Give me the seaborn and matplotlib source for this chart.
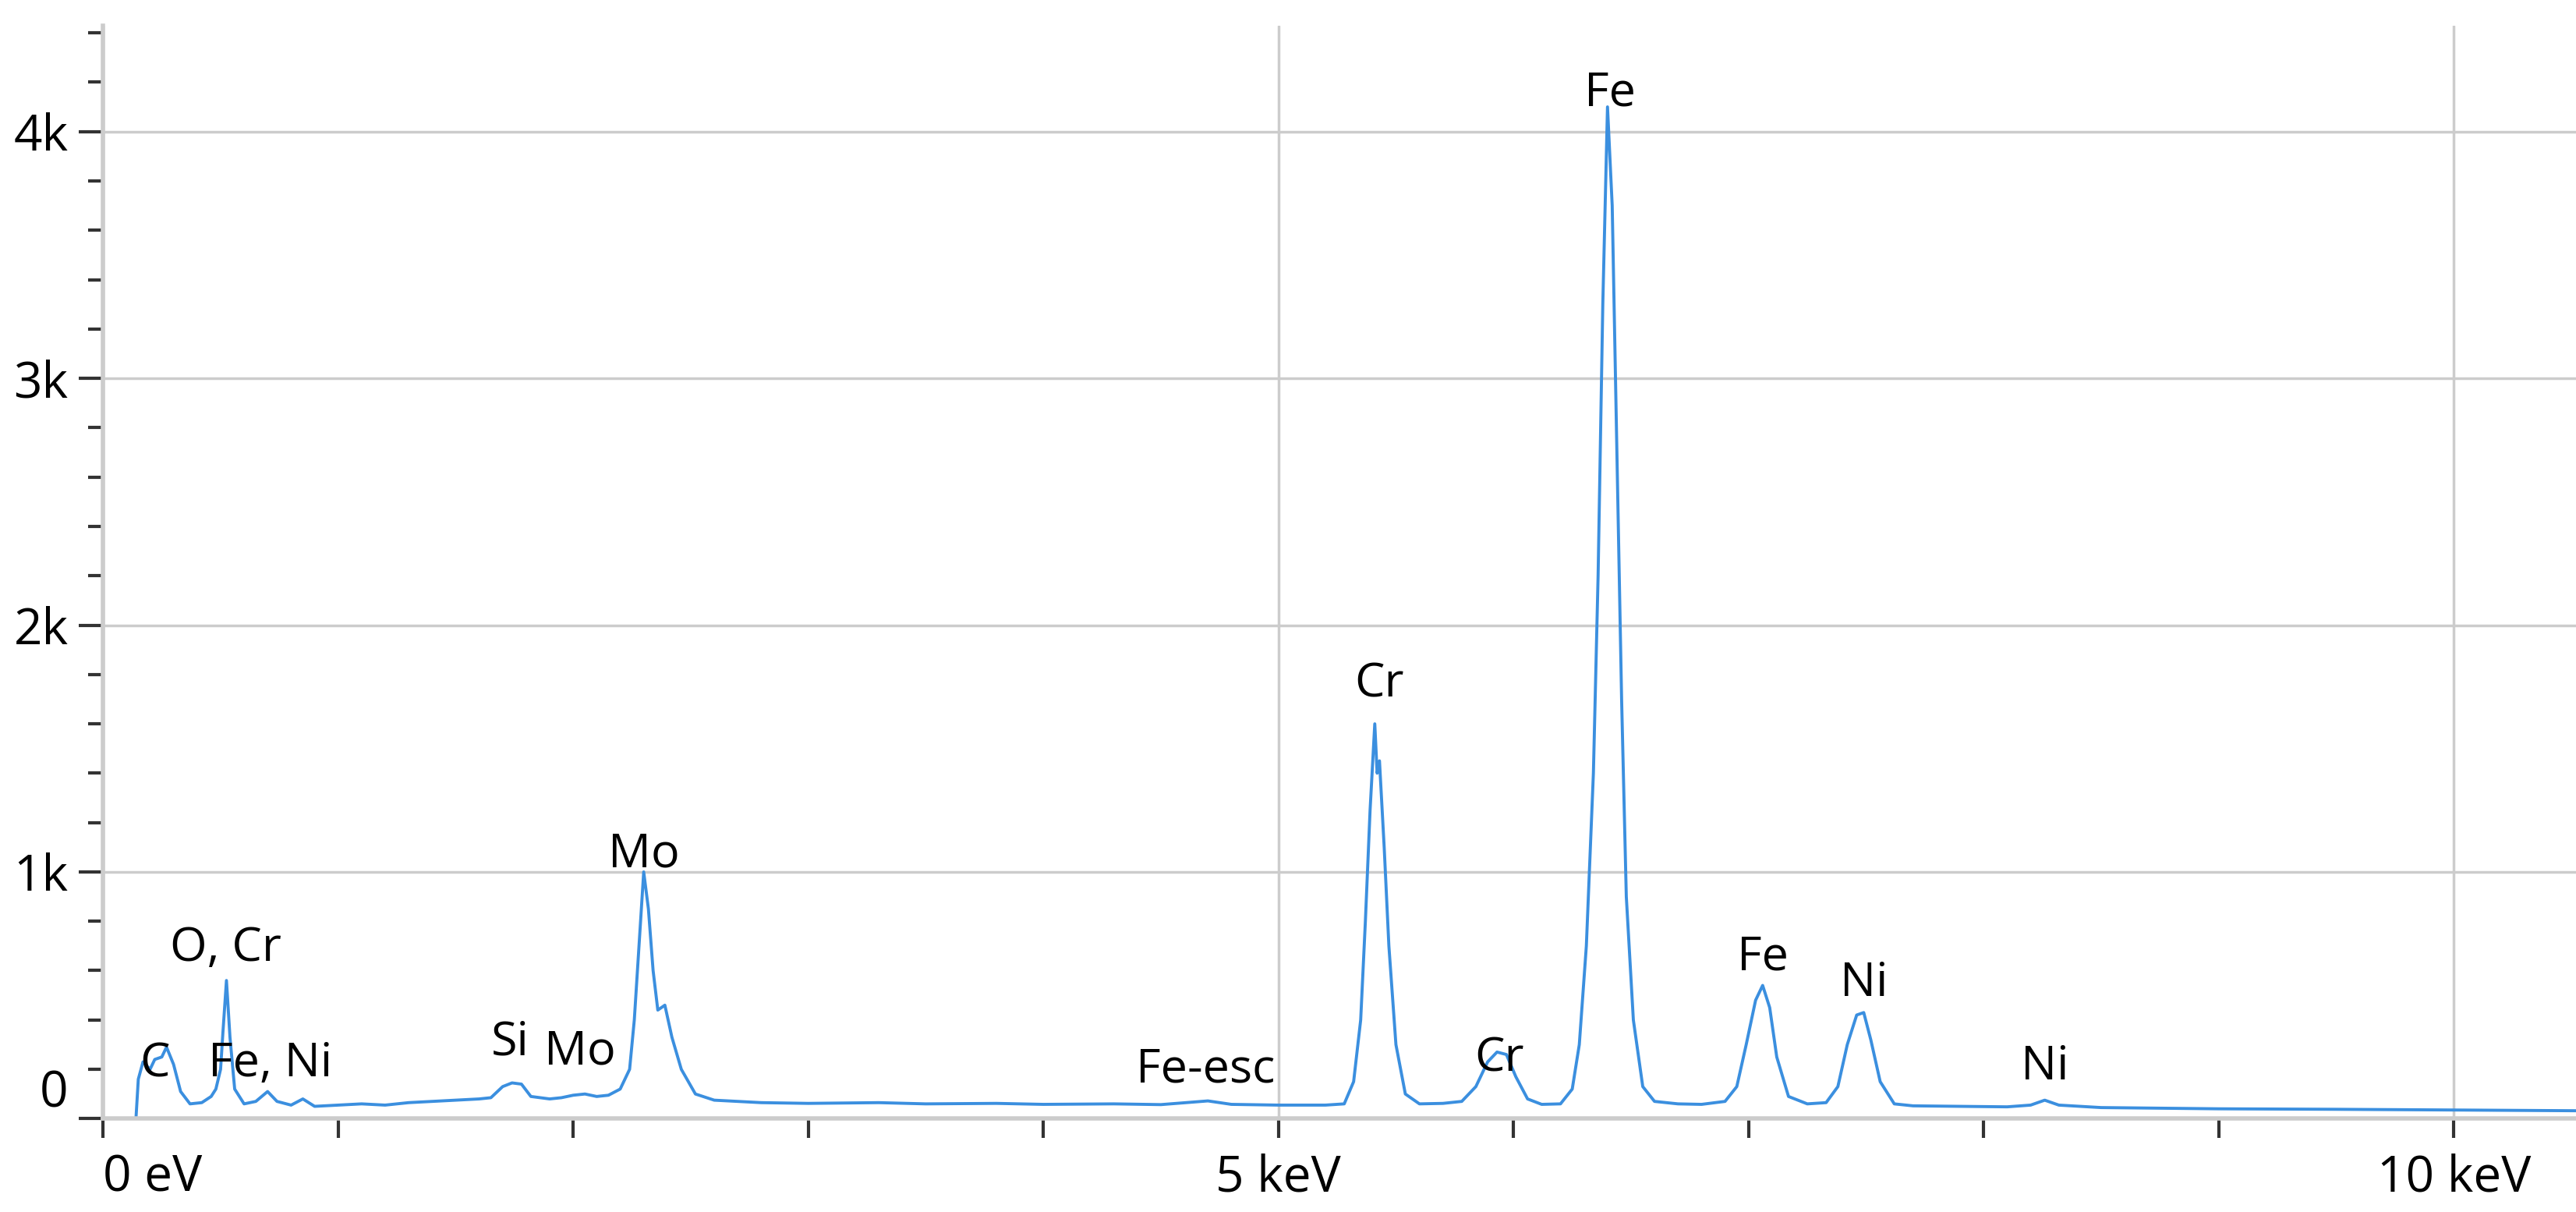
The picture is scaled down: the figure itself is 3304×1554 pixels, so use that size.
import matplotlib
matplotlib.use("Agg")
import matplotlib.pyplot as plt
import seaborn as sns
import pandas as pd
from matplotlib.ticker import MultipleLocator, FixedLocator

energy_kev = [0, 0.14, 0.15, 0.17, 0.20, 0.22, 0.25, 0.27, 0.30, 0.33, 0.37, 0.42, 0.46, 0.48, 0.50, 0.51,
              0.525, 0.54, 0.56, 0.60, 0.65, 0.70, 0.74, 0.80, 0.85, 0.90, 1.0, 1.1, 1.2, 1.3, 1.4, 1.5,
              1.6, 1.65, 1.70, 1.74, 1.78, 1.82, 1.9, 1.95, 2.0, 2.05, 2.1, 2.15, 2.20, 2.24, 2.26, 2.28,
              2.30, 2.32, 2.34, 2.36, 2.39, 2.42, 2.46, 2.52, 2.6, 2.8, 3.0, 3.3, 3.5, 3.8, 4.0, 4.3,
              4.5, 4.7, 4.8, 5.0, 5.2, 5.28, 5.32, 5.35, 5.37, 5.39, 5.41, 5.42, 5.43, 5.45, 5.47, 5.50,
              5.54, 5.6, 5.7, 5.78, 5.84, 5.89, 5.93, 5.97, 6.01, 6.06, 6.12, 6.20, 6.25, 6.28, 6.31,
              6.34, 6.36, 6.38, 6.40, 6.42, 6.44, 6.46, 6.48, 6.51, 6.55, 6.6, 6.7, 6.8, 6.9, 6.95, 6.99,
              7.03, 7.06, 7.09, 7.12, 7.17, 7.25, 7.33, 7.38, 7.42, 7.46, 7.49, 7.52, 7.56, 7.62, 7.7,
              7.9, 8.1, 8.2, 8.26, 8.32, 8.5, 8.8, 9.0, 9.5, 10.0, 10.55]
counts = [0, 0, 160, 230, 200, 240, 250, 290, 220, 110, 60, 65, 90, 120, 200, 350,
          560, 330, 120, 60, 70, 110, 70, 55, 80, 50, 55, 60, 55, 65, 70, 75,
          80, 85, 130, 145, 140, 90, 80, 85, 95, 100, 90, 95, 120, 200, 400, 700,
          1000, 850, 600, 440, 460, 330, 200, 100, 75, 65, 62, 65, 60, 62, 58, 60,
          57, 72, 58, 55, 55, 60, 150, 400, 800, 1250, 1600, 1400, 1450, 1100, 700, 300,
          100, 60, 62, 70, 130, 230, 270, 260, 170, 80, 58, 60, 120, 300, 700,
          1400, 2200, 3300, 4100, 3700, 2700, 1700, 900, 400, 130, 70, 60, 58, 70, 130, 300,
          480, 540, 450, 250, 90, 60, 65, 130, 300, 420, 430, 320, 150, 60, 52,
          50, 48, 55, 75, 55, 45, 42, 40, 38, 35, 32]

peak_labels = ["C", "O, Cr", "Fe, Ni", "Si", "Mo", "Mo", "Fe-esc", "Cr", "Cr", "Fe", "Fe", "Ni", "Ni"]
label_x = [0.22, 0.52, 0.71, 1.73, 2.03, 2.30, 4.69, 5.43, 5.94, 6.41, 7.06, 7.49, 8.26]
label_y = [220, 690, 223, 310, 270, 1070, 200, 1760, 243, 4155, 655, 547, 210]

x_tick_vals = [0, 5, 10]
x_tick_text = ["0 eV", "5 keV", "10 keV"]
y_tick_vals = [0, 1000, 2000, 3000, 4000]
y_tick_text = ["0", "1k", "2k", "3k", "4k"]

sns.set_style("white")
plt.rcParams["font.family"] = ["Open Sans", "DejaVu Sans"]

df = pd.DataFrame({"Energy": energy_kev, "Counts": counts})
fig = plt.figure(figsize=(33.04, 15.54), dpi=100)
ax = fig.add_axes([0.040, 0.077, 0.960, 0.902])
sns.lineplot(data=df, x="Energy", y="Counts", ax=ax, color="#3b8fdf", linewidth=2.8)
ax.set_xlim(0, 10.52)
ax.set_ylim(0, 4430)
ax.set_xlabel("")
ax.set_ylabel("")

ax.xaxis.set_major_locator(FixedLocator(x_tick_vals))
ax.set_xticklabels(x_tick_text)
ax.xaxis.set_minor_locator(MultipleLocator(1))
ax.yaxis.set_major_locator(FixedLocator(y_tick_vals))
ax.set_yticklabels(y_tick_text)
ax.yaxis.set_minor_locator(MultipleLocator(200))

ax.tick_params(axis="both", which="both", direction="out", color="#333333", width=3,
               labelsize=46, labelcolor="black", bottom=True, left=True)
ax.tick_params(axis="x", which="major", length=18, pad=14)
ax.tick_params(axis="x", which="minor", length=18)
ax.tick_params(axis="y", which="major", length=22, pad=10)
ax.tick_params(axis="y", which="minor", length=14)
for lab in ax.get_yticklabels():
    if lab.get_text() == "0":
        lab.set_va("bottom")
for lab in ax.get_xticklabels():
    if lab.get_text() == "0 eV":
        lab.set_ha("left")

ax.grid(True, which="major", color="#cccccc", linewidth=2.5)
ax.set_axisbelow(True)
for side in ["top", "right"]:
    ax.spines[side].set_visible(False)
for side in ["left", "bottom"]:
    ax.spines[side].set_color("#cccccc")
    ax.spines[side].set_linewidth(4)

for t, x, y in zip(peak_labels, label_x, label_y):
    ax.text(x, y, t, ha="center", va="center", fontsize=44, color="black")

fig.savefig("out.png", dpi=100)
